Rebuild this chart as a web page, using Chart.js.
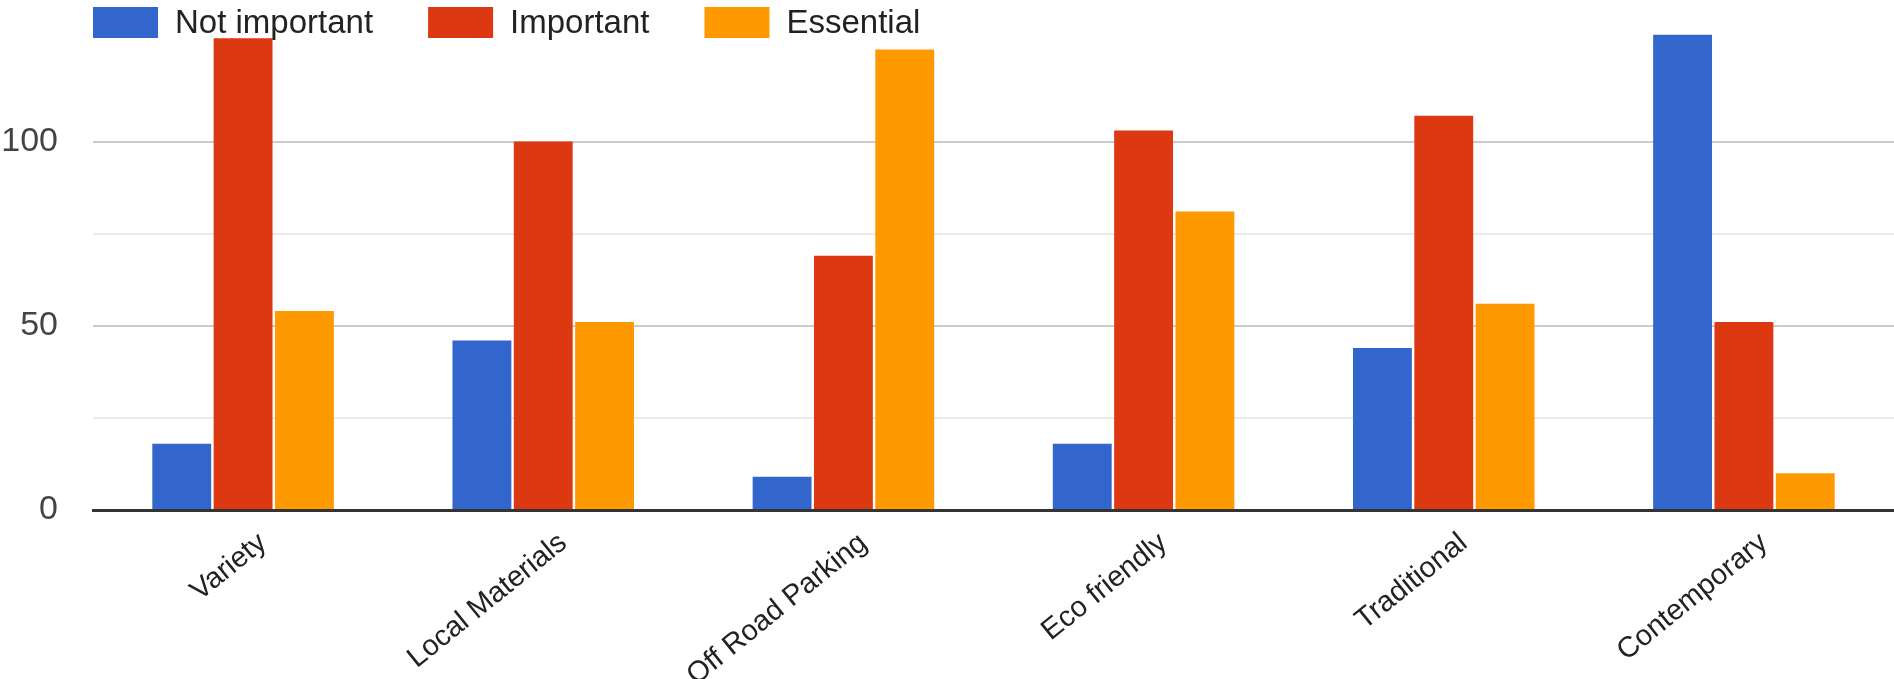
<!DOCTYPE html>
<html>
<head>
<meta charset="utf-8">
<script src="https://cdn.jsdelivr.net/npm/chart.js@4.4.1/dist/chart.umd.min.js"></script>
<style>
  html, body { margin: 0; padding: 0; background: #fff; }
</style>
</head>
<body>
<canvas id="importanceChart" width="1894" height="679"></canvas>
<script>
const categories = ['Variety', 'Local Materials', 'Off Road Parking', 'Eco friendly', 'Traditional', 'Contemporary'];
const notImportant = [18, 46, 9, 18, 44, 129];
const important = [128, 100, 69, 103, 107, 51];
const essential = [54, 51, 125, 81, 56, 10];
const yTickLabels = [0, 50, 100];
const seriesNames = ['Not important', 'Important', 'Essential'];
const seriesColors = ['#3366cc', '#dc3912', '#ff9900'];

const fontFamily = '"Liberation Sans", Arial, Helvetica, sans-serif';

// legend drawn on the canvas, left-aligned with the plot like the original
const topLegend = {
    id: 'topLegend',
    afterDraw(chart) {
        const ctx = chart.ctx;
        let x = chart.chartArea.left;
        ctx.save();
        ctx.font = '33px ' + fontFamily;
        ctx.textBaseline = 'middle';
        chart.data.datasets.forEach(function(ds) {
            ctx.fillStyle = ds.backgroundColor;
            ctx.fillRect(x, 7, 65, 31);
            ctx.fillStyle = '#222';
            ctx.fillText(ds.label, x + 82, 24);
            x += 82 + ctx.measureText(ds.label).width + 55;
        });
        ctx.restore();
    }
};

const seriesData = [notImportant, important, essential];

const ctx = document.getElementById('importanceChart').getContext('2d');
new Chart(ctx, {
    type: 'bar',
    data: {
        labels: categories,
        datasets: seriesNames.map(function(name, i) {
            return {
                label: name,
                data: seriesData[i],
                backgroundColor: seriesColors[i],
                borderWidth: 0,
                categoryPercentage: 0.613,
                barPercentage: 0.96
            };
        })
    },
    options: {
        responsive: false,
        animation: false,
        devicePixelRatio: 1,
        layout: { padding: { top: 31, left: 0, right: 0, bottom: 0 } },
        plugins: {
            legend: { display: false },
            tooltip: { enabled: false }
        },
        scales: {
            x: {
                grid: { display: false },
                border: { color: '#333', width: 3 },
                ticks: {
                    autoSkip: false,
                    color: '#222',
                    font: { size: 29, family: fontFamily },
                    minRotation: 39,
                    maxRotation: 39,
                    labelOffset: 20,
                    padding: 8
                },
                afterFit(scale) {
                    scale.height = 169;
                    scale.paddingLeft = 0;
                    scale.paddingRight = 0;
                }
            },
            y: {
                min: 0,
                max: 130,
                border: { display: false },
                grid: {
                    drawTicks: false,
                    lineWidth: 2,
                    color: function(c) {
                        const v = c.tick.value;
                        if (v === 130) return 'rgba(0,0,0,0)';
                        if (v === 0) return '#333';
                        return yTickLabels.includes(v) ? '#cccccc' : '#ebebeb';
                    }
                },
                ticks: {
                    stepSize: 25,
                    padding: 35,
                    color: '#444',
                    font: { size: 34, family: fontFamily },
                    callback: function(v) { return yTickLabels.includes(v) ? v : ''; }
                },
                afterFit(scale) {
                    scale.width = 93;
                    scale.paddingTop = 0;
                    scale.paddingBottom = 0;
                }
            }
        }
    },
    plugins: [topLegend]
});
</script>
</body>
</html>
